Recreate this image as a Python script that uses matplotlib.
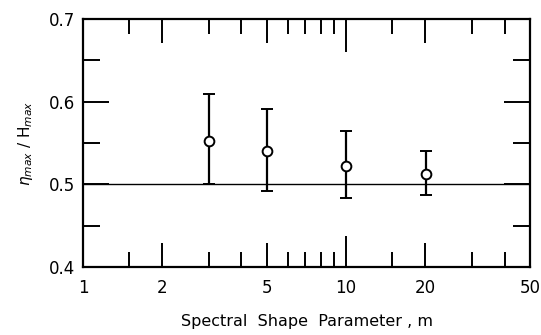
import matplotlib
matplotlib.use("Agg")
import matplotlib.pyplot as plt

# datos
m = [3, 5, 10, 20.2]
eta_h = [0.553, 0.540, 0.522, 0.513]
err_lo = [0.500, 0.492, 0.484, 0.487]
err_hi = [0.609, 0.591, 0.564, 0.540]

xticks = [1, 2, 5, 10, 20, 50]
xtick_labels = ["1", "2", "5", "10", "20", "50"]
xminor = [1.5, 3, 4, 6, 7, 8, 9, 15, 30, 40]
yticks = [0.4, 0.5, 0.6, 0.7]
yminor = [0.45, 0.55, 0.65]

plt.rcParams["font.family"] = "DejaVu Sans"

fig = plt.figure(figsize=(5.41, 3.35), dpi=100)
ax = fig.add_axes([0.1534, 0.2030, 0.8263, 0.7403])

ax.set_xscale("log")
ax.set_xlim(1, 50)
ax.set_ylim(0.4, 0.7)

ax.axhline(0.5, color="black", lw=1.0, zorder=1)

yerr = [[v - lo for v, lo in zip(eta_h, err_lo)],
        [hi - v for v, hi in zip(eta_h, err_hi)]]
ax.errorbar(m, eta_h, yerr=yerr, fmt="o", ms=7, mfc="white", mec="black",
            mew=1.4, ecolor="black", elinewidth=1.6, capsize=4.5, capthick=1.6,
            zorder=3)

ax.set_xticks(xticks)
ax.set_xticklabels(xtick_labels)
ax.set_xticks(xminor, minor=True)
ax.set_xticklabels([], minor=True)
ax.set_yticks(yticks)
ax.set_yticklabels([f"{v:.1f}" for v in yticks])
ax.set_yticks(yminor, minor=True)

ax.tick_params(which="both", direction="in", top=True, right=True,
               width=1.4, labelsize=12, colors="black")
ax.tick_params(axis="x", which="major", length=17, pad=9)
ax.tick_params(axis="x", which="minor", length=11)
ax.tick_params(axis="y", which="major", length=19, pad=6)
ax.tick_params(axis="y", which="minor", length=12)

# la marca de 10 es algo mas larga
t10 = ax.xaxis.get_major_ticks()[3]
t10.tick1line.set_markersize(22)
t10.tick2line.set_markersize(24)

for s in ax.spines.values():
    s.set_linewidth(1.6)

ax.set_xlabel("Spectral  Shape  Parameter , m", fontsize=11.5, labelpad=12)
ax.set_ylabel(r"$\eta_{max}$ / H$_{max}$", fontsize=11, labelpad=10)

fig.savefig("out.png", dpi=100)
